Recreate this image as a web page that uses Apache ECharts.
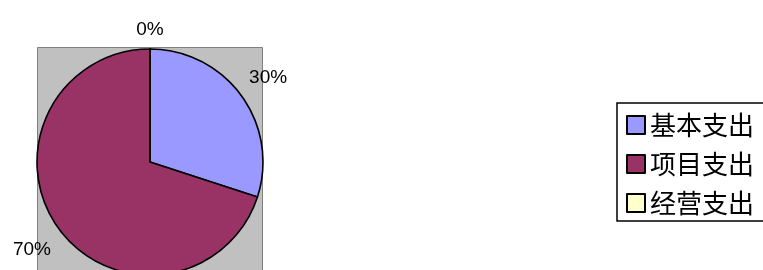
<!DOCTYPE html>
<html>
<head>
<meta charset="utf-8">
<script src="https://cdn.jsdelivr.net/npm/echarts@6/dist/echarts.min.js"></script>
<style>
  html, body { margin: 0; padding: 0; background: #fff; }
  #chart { width: 763px; height: 270px; }
</style>
</head>
<body>
<div id="chart"></div>
<script>
// 支出构成
const categories = ['基本支出', '项目支出', '经营支出'];
const values = [30, 70, 0];
const colors = ['#9999FF', '#993366', '#FFFFCC'];

const center = [150, 162];
const radius = 113;
const labelGap = 12;

// 每个扇区中间角（度，逆时针从x轴起算），与 startAngle 90、顺时针一致
const total = values.reduce((a, b) => a + b, 0);
const midAngles = [];
let acc = 0;
values.forEach(v => {
  midAngles.push(90 - 360 * (acc + v / 2) / total);
  acc += v;
});

const chart = echarts.init(document.getElementById('chart'));

const option = {
  animation: false,
  // 灰色绘图区
  graphic: [{
    type: 'rect',
    shape: { x: 37.5, y: 47.5, width: 225, height: 240 },
    style: { fill: '#C0C0C0', stroke: '#808080', lineWidth: 1 },
    z: -10
  }],
  legend: {
    orient: 'vertical',
    left: 617,
    top: 103,
    padding: [9, 24, 5, 9],
    itemGap: 13,
    itemWidth: 18,
    itemHeight: 18,
    icon: 'rect',
    borderColor: '#000',
    borderWidth: 1.5,
    borderRadius: 0,
    itemStyle: { borderColor: '#000', borderWidth: 2 },
    data: categories,
    textStyle: {
      fontFamily: 'Noto Sans CJK SC',
      fontSize: 26,
      color: '#000'
    }
  },
  series: [{
    type: 'pie',
    center: center,
    radius: radius,
    startAngle: 90,
    clockwise: true,
    minAngle: 0,
    avoidLabelOverlap: false,
    itemStyle: { borderColor: '#000', borderWidth: 1.6 },
    label: {
      show: true,
      position: 'outside',
      formatter: '{d}%',
      fontFamily: 'Liberation Sans',
      fontSize: 19,
      color: '#000'
    },
    labelLine: { show: false },
    labelLayout: function (params) {
      const a = midAngles[params.dataIndex] * Math.PI / 180;
      const cx = Math.cos(a), sy = Math.sin(a);
      const w = params.labelRect.width, h = params.labelRect.height;
      const ext = Math.abs(cx) * w / 2 + Math.abs(sy) * h / 2;
      const r = radius + labelGap + ext;
      return {
        x: center[0] + r * cx,
        y: center[1] - r * sy + (sy > 0.5 || sy < -0.5 ? 2 : 0),
        align: 'center',
        verticalAlign: 'middle'
      };
    },
    emphasis: { disabled: true },
    data: categories.map((name, i) => ({
      name: name,
      value: values[i],
      itemStyle: { color: colors[i] }
    }))
  }]
};

chart.setOption(option);
</script>
</body>
</html>
